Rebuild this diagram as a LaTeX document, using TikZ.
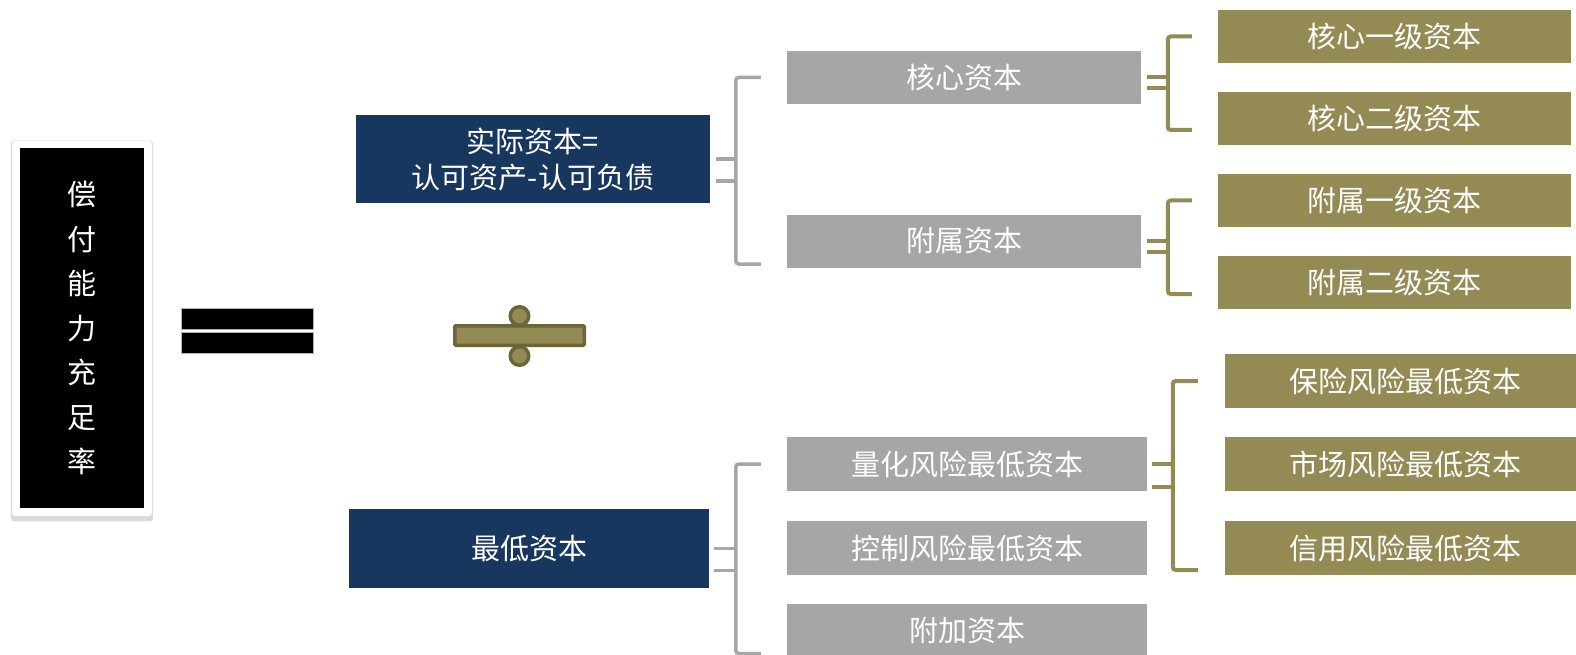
\documentclass[tikz,border=0pt]{standalone}
\usepackage{fontspec}
\setmainfont{Noto Sans CJK SC}
\usetikzlibrary{shadows}
\definecolor{capnavy}{HTML}{17375E}
\definecolor{capgray}{HTML}{A6A6A6}
\definecolor{capgold}{HTML}{948A54}
\definecolor{capdark}{HTML}{6C6538}
\tikzstyle{box}=[rectangle,inner sep=0pt,text=white,align=center,font=\fontsize{29}{36}\selectfont]
\tikzstyle{blu}=[box,fill=capnavy,minimum width=354pt]
\tikzstyle{gry}=[box,fill=capgray,minimum height=53pt]
\tikzstyle{gld}=[box,fill=capgold,minimum height=53pt]
\tikzstyle{frame}=[rectangle,fill=white,draw=gray!15,rounded corners=3pt,minimum width=140pt,minimum height=375pt,drop shadow={shadow xshift=0pt,shadow yshift=-2.5pt,shadow scale=1.015,opacity=0.3}]
\tikzstyle{eqbar}=[rectangle,fill=black,draw=gray!60,line width=0.8pt,minimum width=132pt,minimum height=21pt,inner sep=0pt]
\tikzstyle{divbar}=[rectangle,fill=capgold,draw=capdark,line width=3.5pt,rounded corners=1pt,minimum width=129.5pt,minimum height=19.5pt,inner sep=0pt]
\tikzstyle{divdot}=[circle,fill=capgold,draw=capdark,line width=3.5pt,minimum size=18.5pt,inner sep=0pt]
\tikzstyle{gbrk}=[draw=capgray,line width=3.5pt,rounded corners=3pt]
\tikzstyle{obrk}=[draw=capgold,line width=4pt,rounded corners=3pt]

\begin{document}
\begin{tikzpicture}[x=1pt,y=-1pt]
            \useasboundingbox (0,0) rectangle (1576,655);
            % left side
            \node[frame] (frm) at (82,328.5) {};
            \node[box,fill=black,minimum width=124pt,minimum height=360pt,font=\fontsize{29}{44.5}\selectfont] (rate) at (82,328) {偿\\付\\能\\力\\充\\足\\率};
            \node[eqbar] (eqa) at (247,318.5) {};
            \node[eqbar] (eqb) at (247,342.5) {};
            \node[divdot] (dota) at (519.5,316) {};
            \node[divdot] (dotb) at (519.5,356) {};
            \node[divbar] (div) at (519.5,335.5) {};
            % numerator and denominator
            \node[blu,minimum height=88pt] (real) at (533,159) {实际资本=\\认可资产-认可负债};
            \node[blu,minimum width=360pt,minimum height=79pt] (min) at (529,548.5) {最低资本};
            % second column
            \node[gry,minimum width=354pt] (core) at (964,77.5) {核心资本};
            \node[gry,minimum width=354pt] (supp) at (964,241) {附属资本};
            \node[gry,minimum width=360pt,minimum height=54pt] (quant) at (967,464) {量化风险最低资本};
            \node[gry,minimum width=360pt,minimum height=54pt] (ctrl) at (967,548) {控制风险最低资本};
            \node[gry,minimum width=360pt,minimum height=54pt] (addl) at (967,630.5) {附加资本};
            % third column
            \node[gld,minimum width=353pt] (coreA) at (1394.5,36.5) {核心一级资本};
            \node[gld,minimum width=353pt] (coreB) at (1394.5,118.5) {核心二级资本};
            \node[gld,minimum width=353pt] (suppA) at (1394.5,200.5) {附属一级资本};
            \node[gld,minimum width=353pt] (suppB) at (1394.5,282.5) {附属二级资本};
            \node[gld,minimum width=360pt,minimum height=54pt] (ins) at (1405,381) {保险风险最低资本};
            \node[gld,minimum width=360pt,minimum height=54pt] (mkt) at (1405,464) {市场风险最低资本};
            \node[gld,minimum width=360pt,minimum height=54pt] (cred) at (1405,548) {信用风险最低资本};
            % brackets
            \draw[gbrk] ([xshift=-26pt]core.west) -- ++(-25,0) |- ([xshift=-26pt,yshift=-23pt]supp.west);
            \draw[gbrk] ([xshift=6pt]real.east) -- ++(20,0);
            \draw[gbrk] ([xshift=6pt,yshift=-22pt]real.east) -- ++(20,0);
            \draw[gbrk] ([xshift=-26pt]quant.west) -- ++(-25,0) |- ([xshift=-26pt,yshift=-23pt]addl.west);
            \draw[gbrk] ([xshift=5pt]min.east) -- ++(22,0);
            \draw[gbrk] ([xshift=5pt,yshift=-22pt]min.east) -- ++(22,0);
            \draw[obrk] ([xshift=-26pt]coreA.west) -- ++(-24,0) |- ([xshift=-26pt,yshift=-11.5pt]coreB.west);
            \draw[obrk] ([xshift=6pt]core.east) -- ++(21,0);
            \draw[obrk] ([xshift=6pt,yshift=-11pt]core.east) -- ++(21,0);
            \draw[obrk] ([xshift=-26pt]suppA.west) -- ++(-24,0) |- ([xshift=-26pt,yshift=-11.5pt]suppB.west);
            \draw[obrk] ([xshift=6pt]supp.east) -- ++(21,0);
            \draw[obrk] ([xshift=6pt,yshift=-11pt]supp.east) -- ++(21,0);
            \draw[obrk] ([xshift=-27pt]ins.west) -- ++(-25,0) |- ([xshift=-27pt,yshift=-22pt]cred.west);
            \draw[obrk] ([xshift=5pt]quant.east) -- ++(21,0);
            \draw[obrk] ([xshift=5pt,yshift=-23pt]quant.east) -- ++(21,0);
        \end{tikzpicture}
\end{document}
